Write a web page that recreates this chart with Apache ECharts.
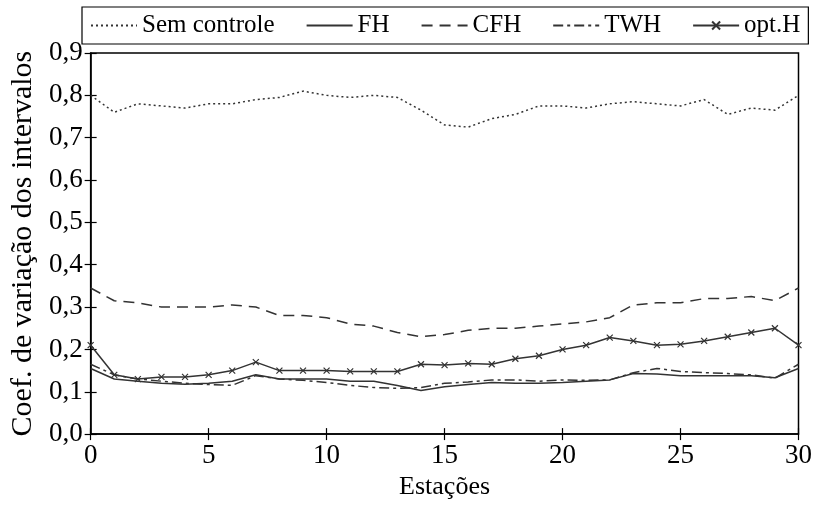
<!DOCTYPE html>
<html><head><meta charset="utf-8">
<script src="https://cdn.jsdelivr.net/npm/echarts@6/dist/echarts.min.js"></script>
<style>html,body{margin:0;padding:0;background:#fff}#c{width:815px;height:505px}</style>
</head><body><div id="c"></div>
<script>
const stations = [0,1,2,3,4,5,6,7,8,9,10,11,12,13,14,15,16,17,18,19,20,21,22,23,24,25,26,27,28,29,30];
const semControle = [0.80,0.76,0.78,0.775,0.77,0.78,0.78,0.79,0.795,0.81,0.80,0.795,0.80,0.795,0.765,0.73,0.725,0.745,0.755,0.775,0.775,0.77,0.78,0.785,0.78,0.775,0.79,0.755,0.77,0.765,0.80];
const fh = [0.155,0.13,0.125,0.12,0.118,0.12,0.125,0.14,0.13,0.13,0.13,0.125,0.125,0.115,0.103,0.112,0.117,0.122,0.12,0.12,0.122,0.125,0.128,0.143,0.142,0.138,0.138,0.138,0.138,0.133,0.155];
const cfh = [0.345,0.315,0.31,0.30,0.30,0.30,0.305,0.30,0.28,0.28,0.275,0.26,0.255,0.24,0.23,0.235,0.245,0.25,0.25,0.255,0.26,0.265,0.275,0.305,0.31,0.31,0.32,0.32,0.325,0.315,0.345];
const twh = [0.165,0.14,0.13,0.125,0.12,0.117,0.115,0.138,0.13,0.127,0.122,0.115,0.11,0.108,0.11,0.12,0.123,0.128,0.128,0.125,0.128,0.127,0.128,0.145,0.155,0.148,0.145,0.143,0.14,0.132,0.165];
const optH = [0.21,0.14,0.13,0.135,0.135,0.14,0.15,0.17,0.15,0.15,0.15,0.148,0.148,0.148,0.165,0.163,0.167,0.165,0.178,0.185,0.20,0.21,0.228,0.22,0.21,0.212,0.22,0.23,0.24,0.25,0.21];
const seriesNames = ['Sem controle','FH','CFH','TWH','opt.H'];

const FONT = 'Liberation Serif';
const C = '#333';
const pair = a => a.map((v,i)=>[stations[i], v]);
const fmt = v => v.toFixed(1).replace('.', ',');
const tickStyle = {inside:true, length:6, lineStyle:{color:'#000', width:1.2}};

const chart = echarts.init(document.getElementById('c'), null, {renderer:'canvas'});
const lineBase = (name, data, type, extra) => Object.assign({
  name, type:'line', data: pair(data), symbol:'none', smooth:false,
  lineStyle:{color:C, width:1.5, type}, itemStyle:{color:C}, animation:false, z:3
}, extra||{});

chart.setOption({
  animation:false,
  textStyle:{fontFamily:FONT},
  grid:{left:82, right:15, top:53, bottom:64, show:true, borderColor:'#000', borderWidth:1.5, backgroundColor:'transparent'},
  legend:{
    top:7, left:82,
    data: seriesNames.map((n,i)=> i<4 ? {name:n, itemStyle:{opacity:0}} : {name:n}),
    itemWidth:46, itemHeight:10, itemGap:31,
    padding:[6,8,6,8],
    borderColor:'#000', borderWidth:1.2,
    textStyle:{fontFamily:FONT, fontSize:25, color:'#000'},
    selectedMode:false
  },
  xAxis:[{
    type:'value', min:0, max:30, interval:5,
    name:'Estações', nameLocation:'middle', nameGap:31,
    nameTextStyle:{fontFamily:FONT, fontSize:26, color:'#000'},
    axisLine:{show:true, lineStyle:{color:'#000', width:1.5}},
    axisTick:tickStyle, splitLine:{show:false},
    axisLabel:{fontFamily:FONT, fontSize:27, color:'#000', margin:8}
  },{
    type:'value', min:0, max:30, interval:5, position:'top',
    axisLine:{show:false}, axisTick:tickStyle, axisLabel:{show:false}, splitLine:{show:false}
  }],
  yAxis:[{
    type:'value', min:0, max:0.9, interval:0.1,
    name:'Coef. de variação dos intervalos', nameLocation:'middle', nameGap:47,
    nameTextStyle:{fontFamily:FONT, fontSize:30, color:'#000'},
    axisLine:{show:true, lineStyle:{color:'#000', width:1.5}},
    axisTick:tickStyle, splitLine:{show:false},
    axisLabel:{fontFamily:FONT, fontSize:27, color:'#000', margin:8, formatter:fmt}
  },{
    type:'value', min:0, max:0.9, interval:0.1, position:'right',
    axisLine:{show:false}, axisTick:tickStyle, axisLabel:{show:false}, splitLine:{show:false}
  }],
  series:[
    lineBase('Sem controle', semControle, [2,3]),
    lineBase('FH', fh, 'solid'),
    lineBase('CFH', cfh, [11,7]),
    lineBase('TWH', twh, [10,4,3,4]),
    lineBase('opt.H', optH, 'solid', {
      symbol:'path://M0,0L10,10M10,0L0,10', symbolSize:6, showSymbol:true,
      itemStyle:{color:C, borderColor:C, borderWidth:1.2}
    })
  ]
});
</script></body></html>
